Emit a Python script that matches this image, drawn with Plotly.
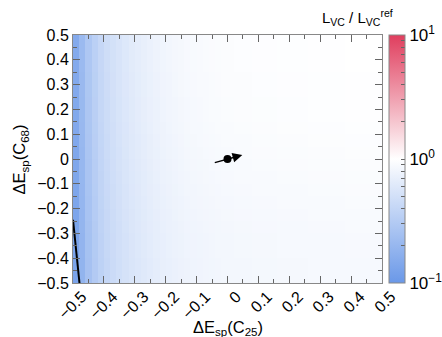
import numpy as np
import plotly.graph_objects as go

# Bin centres of the scan in dE_sp(C25) and dE_sp(C68)
x_centres = [round(-0.49 + 0.02 * i, 2) for i in range(50)]
y_centres = [round(-0.475 + 0.05 * j, 3) for j in range(20)]

# L_VC / L_VC^ref along dE_sp(C25) (one value per column)
ratio_vs_c25 = [
    0.14, 0.20, 0.27, 0.33, 0.39, 0.44, 0.48, 0.52, 0.56, 0.60,
    0.63, 0.66, 0.69, 0.72, 0.75, 0.77, 0.79, 0.81, 0.83, 0.84,
    0.85, 0.86, 0.87, 0.88, 0.89, 0.89, 0.90, 0.90, 0.90, 0.91,
    0.91, 0.91, 0.91, 0.92, 0.92, 0.92, 0.92, 0.92, 0.93, 0.93,
    0.93, 0.93, 0.93, 0.93, 0.94, 0.94, 0.94, 0.94, 0.94, 0.94,
]
# relative modulation along dE_sp(C68) (one value per row, bottom to top)
ratio_vs_c68 = [
    0.93, 0.93, 0.94, 0.94, 0.95, 0.96, 0.97, 0.98, 0.99, 1.00,
    1.01, 1.02, 1.03, 1.04, 1.04, 1.05, 1.05, 1.06, 1.06, 1.06,
]

# contour of the allowed region in the lower-left corner
contour_x = [-0.500, -0.497, -0.493, -0.489, -0.485, -0.482, -0.479]
contour_y = [-0.245, -0.280, -0.320, -0.370, -0.420, -0.460, -0.500]

# best-fit point and shift direction
best_x, best_y = [0.0], [0.0]
shift_from = (-0.046, -0.016)
shift_to = (0.048, 0.016)

x_ticks = [-0.5, -0.4, -0.3, -0.2, -0.1, 0, 0.1, 0.2, 0.3, 0.4, 0.5]
cbar_ticks = [-1, 0, 1]
cbar_labels = ["10<sup>\u22121</sup>", "10<sup>0</sup>", "10<sup>1</sup>"]

z = np.log10(np.outer(ratio_vs_c68, ratio_vs_c25))

font = "Liberation Sans, Arial, sans-serif"
blue, red = "rgb(106,152,232)", "rgb(224,62,94)"

minor_cb = [np.log10(m) + d for d in (-1, 0) for m in range(2, 10)]

fig = go.Figure()
fig.add_trace(go.Heatmap(
    x=x_centres, y=y_centres, z=z, zmin=-1, zmax=1,
    colorscale=[[0, blue], [0.5, "white"], [1, red]],
    colorbar=dict(
        x=1.0226, xanchor="left", xref="paper", xpad=0, ypad=0,
        thickness=16, len=1, lenmode="fraction",
        y=0.5, yanchor="middle", outlinewidth=1, outlinecolor="#888",
        tickvals=cbar_ticks + minor_cb,
        ticktext=cbar_labels + [""] * len(minor_cb),
        ticks="inside", ticklen=4, tickcolor="#666",
        tickfont=dict(family=font, size=17, color="black"),
    ),
    hoverinfo="skip",
))
fig.add_trace(go.Scatter(x=contour_x, y=contour_y, mode="lines",
                         line=dict(color="black", width=2), showlegend=False))
fig.add_trace(go.Scatter(x=best_x, y=best_y, mode="markers",
                         marker=dict(color="black", size=8), showlegend=False))
fig.add_annotation(x=shift_to[0], y=shift_to[1], ax=shift_from[0], ay=shift_from[1],
                   xref="x", yref="y", axref="x", ayref="y", text="",
                   showarrow=True, arrowhead=2, arrowsize=1.4, arrowwidth=1.4,
                   arrowcolor="black")

axis_common = dict(
    showline=True, mirror="allticks", linecolor="#888", linewidth=1,
    ticks="inside", ticklen=7, tickcolor="#666", showgrid=False, zeroline=False,
    tickfont=dict(family=font, size=16, color="black"),
    minor=dict(ticks="inside", ticklen=4, tickcolor="#666", dtick=0.05),
    tick0=0,
)
fig.update_xaxes(range=[-0.5, 0.5], tickangle=-45, tickvals=x_ticks,
                 ticklabelshift=9, ticklabelstandoff=-3, **axis_common)
fig.update_yaxes(range=[-0.5, 0.5], dtick=0.1, **axis_common)

fig.add_annotation(text="\u0394E<sub>sp</sub>(C<sub>25</sub>)", xref="paper", yref="paper",
                   x=0.5, y=-0.18, showarrow=False, yanchor="middle",
                   font=dict(family=font, size=16.5, color="black"))
fig.add_annotation(text="\u0394E<sub>sp</sub>(C<sub>68</sub>)", xref="paper", yref="paper",
                   x=-0.17, y=0.5, showarrow=False, textangle=-90, xanchor="center",
                   font=dict(family=font, size=16.5, color="black"))
fig.add_annotation(
    text="L<sub>VC</sub> / L<sub>VC</sub><sup>ref</sup>",
    xref="paper", yref="paper", x=0.80, y=1.07, showarrow=False,
    yanchor="middle", xanchor="left",
    font=dict(family=font, size=15, color="black"))

fig.update_layout(
    width=442, height=337,
    margin=dict(l=72.5, r=60, t=35, b=54, autoexpand=False),
    plot_bgcolor="white", paper_bgcolor="white",
    showlegend=False,
)
fig.write_html("out.html")
